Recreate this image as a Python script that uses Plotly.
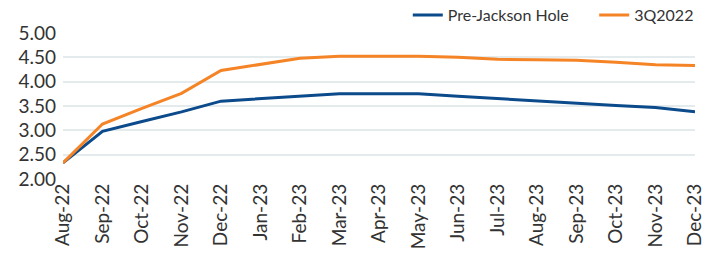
import plotly.graph_objects as go

months = ["Aug-22", "Sep-22", "Oct-22", "Nov-22", "Dec-22", "Jan-23", "Feb-23", "Mar-23",
          "Apr-23", "May-23", "Jun-23", "Jul-23", "Aug-23", "Sep-23", "Oct-23", "Nov-23", "Dec-23"]
pre_jackson = [2.33, 2.98, 3.18, 3.38, 3.60, 3.65, 3.70, 3.75, 3.75, 3.75, 3.70, 3.65, 3.60,
               3.55, 3.51, 3.47, 3.38]
q3_2022 = [2.33, 3.13, 3.45, 3.76, 4.23, 4.36, 4.48, 4.52, 4.52, 4.52, 4.50, 4.46, 4.45,
           4.44, 4.40, 4.35, 4.33]
y_ticks = [2.0, 2.5, 3.0, 3.5, 4.0, 4.5, 5.0]

fig = go.Figure()
fig.add_trace(go.Scatter(x=months, y=pre_jackson, mode="lines",
                         name="Pre-Jackson Hole" + "&nbsp;" * 5,
                         line=dict(color="#0b4a8b", width=3)))
fig.add_trace(go.Scatter(x=months, y=q3_2022, mode="lines", name="3Q2022",
                         line=dict(color="#f58426", width=3)))

fig.update_layout(
    width=711, height=260,
    margin=dict(l=63, r=16, t=33, b=81, autoexpand=False),
    paper_bgcolor="white", plot_bgcolor="white",
    font=dict(family="Lato", color="#333333"),
    legend=dict(orientation="h", x=1.006, xanchor="right", y=1.123, yanchor="middle",
                font=dict(size=16, color="#333333"), bgcolor="rgba(0,0,0,0)",
                tracegroupgap=0),
    showlegend=True,
)
fig.update_xaxes(range=[0, len(months) - 1], tickangle=-90, tickfont=dict(size=19),
                 showgrid=False, zeroline=False, showline=False, ticks="", automargin=False)
fig.update_yaxes(range=[2, 5], tickvals=y_ticks, tickformat=".2f", tickfont=dict(size=19),
                 showgrid=True, gridcolor="#e4ebed", gridwidth=2, zeroline=False,
                 showline=False, ticks="", ticklabelstandoff=6, automargin=False)

fig.write_html("out.html", config={"displayModeBar": False},
               post_script="document.body.style.margin='0';document.body.style.overflow='hidden';")
